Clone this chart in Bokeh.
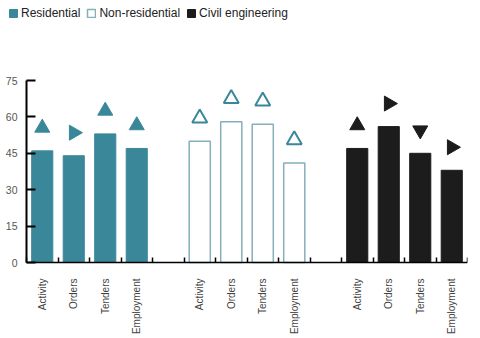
import math
from bokeh.plotting import figure
from bokeh.models import (ColumnDataSource, FixedTicker, Legend, LegendItem, Range1d)
from bokeh.embed import file_html
from bokeh.resources import INLINE

groups = ["Residential", "Non-residential", "Civil engineering"]
categories = ["Activity", "Orders", "Tenders", "Employment"]
residential = [46, 44, 53, 47]
non_residential = [50, 58, 57, 41]
civil = [47, 56, 45, 38]
residential_dir = ["up", "right", "up", "up"]
non_residential_dir = ["up", "up", "up", "up"]
civil_dir = ["up", "right", "down", "right"]
y_ticks = [0, 15, 30, 45, 60, 75]
Y_MAX = 75

TEAL = "#3a879a"
LIGHT = "#86aebb"
BLACK = "#1c1c1c"
FONT = "Liberation Sans"
MARK_OFFSET = 9.5
ANGLES = {"up": 0.0, "right": -math.pi / 2, "down": math.pi}

# layout in pixels
W, H = 480, 338
AXIS_LEFT_PX, RIGHT_PX = 26, 13
AXIS_TOP_PX, BOTTOM_PX = 80, 76

slots_per_group = len(categories) + 1
n_slots = len(groups) * slots_per_group - 1

frame_w = W - RIGHT_PX
px_per_slot = (frame_w - AXIS_LEFT_PX) / n_slots
px_per_unit = (H - BOTTOM_PX - AXIS_TOP_PX) / Y_MAX

p = figure(width=W, height=H, output_backend="svg", toolbar_location=None,
           x_range=Range1d(-AXIS_LEFT_PX / px_per_slot, n_slots),
           y_range=Range1d(-BOTTOM_PX / px_per_unit, Y_MAX + AXIS_TOP_PX / px_per_unit),
           min_border_left=0, min_border_right=RIGHT_PX, min_border_top=0,
           min_border_bottom=0)
p.outline_line_color = None
p.xgrid.grid_line_color = None
p.ygrid.grid_line_color = None

series = [residential, non_residential, civil]
dirs = [residential_dir, non_residential_dir, civil_dir]
styles = [
    dict(fill_color=TEAL, line_color=TEAL, line_width=1),
    dict(fill_color="white", line_color=LIGHT, line_width=1.5),
    dict(fill_color=BLACK, line_color=BLACK, line_width=1),
]
mstyles = [
    dict(fill_color=TEAL, line_color=TEAL, line_width=1),
    dict(fill_color="white", line_color=TEAL, line_width=2),
    dict(fill_color=BLACK, line_color=BLACK, line_width=1),
]

centers = []
labels = {}
legend_items = []
for g, (name, vals, dd) in enumerate(zip(groups, series, dirs)):
    xs = [g * slots_per_group + i + 0.5 for i in range(len(categories))]
    for x, c in zip(xs, categories):
        centers.append(x)
        labels[x] = c
    src = ColumnDataSource(dict(x=xs, top=vals,
                                my=[v + MARK_OFFSET for v in vals],
                                ang=[ANGLES[d] for d in dd]))
    r = p.vbar(x="x", top="top", bottom=0, width=0.67, source=src, **styles[g])
    p.scatter(x="x", y="my", angle="ang", marker="triangle", size=15, source=src, **mstyles[g])
    legend_items.append(LegendItem(label=name, renderers=[r]))

boundaries = list(range(0, n_slots + 1))

xa = p.xaxis[0]
xa.fixed_location = 0
xa.bounds = (0, n_slots)
xa.ticker = FixedTicker(ticks=centers, minor_ticks=boundaries)
xa.major_label_overrides = labels
xa.major_label_orientation = math.pi / 2
xa.major_tick_line_color = None
xa.minor_tick_in = 5
xa.minor_tick_out = 0
xa.minor_tick_line_color = "black"
xa.minor_tick_line_width = 1.5
xa.axis_line_color = "black"
xa.axis_line_width = 1.5
xa.major_label_standoff = 10
xa.major_label_text_font = FONT
xa.major_label_text_font_size = "10px"
xa.major_label_text_color = "#444444"

ya = p.yaxis[0]
ya.fixed_location = 0
ya.bounds = (0, Y_MAX)
ya.ticker = FixedTicker(ticks=y_ticks, minor_ticks=[])
ya.major_tick_in = 9
ya.major_tick_out = 0
ya.major_tick_line_width = 2
ya.major_tick_line_color = "black"
ya.axis_line_width = 2
ya.axis_line_color = "black"
ya.major_label_standoff = 9
ya.major_label_text_font = FONT
ya.major_label_text_font_size = "10.5px"
ya.major_label_text_color = "#555555"

legend = Legend(items=legend_items, orientation="horizontal",
                location=(8, H - 20),
                glyph_width=10, glyph_height=10, label_height=12, label_width=10,
                label_standoff=3, spacing=6, padding=0, margin=0,
                border_line_color=None, background_fill_alpha=0,
                label_text_font=FONT, label_text_font_size="12px",
                label_text_color="#222222")
p.add_layout(legend, "center")

open("out.html", "w").write(file_html(p, INLINE))
